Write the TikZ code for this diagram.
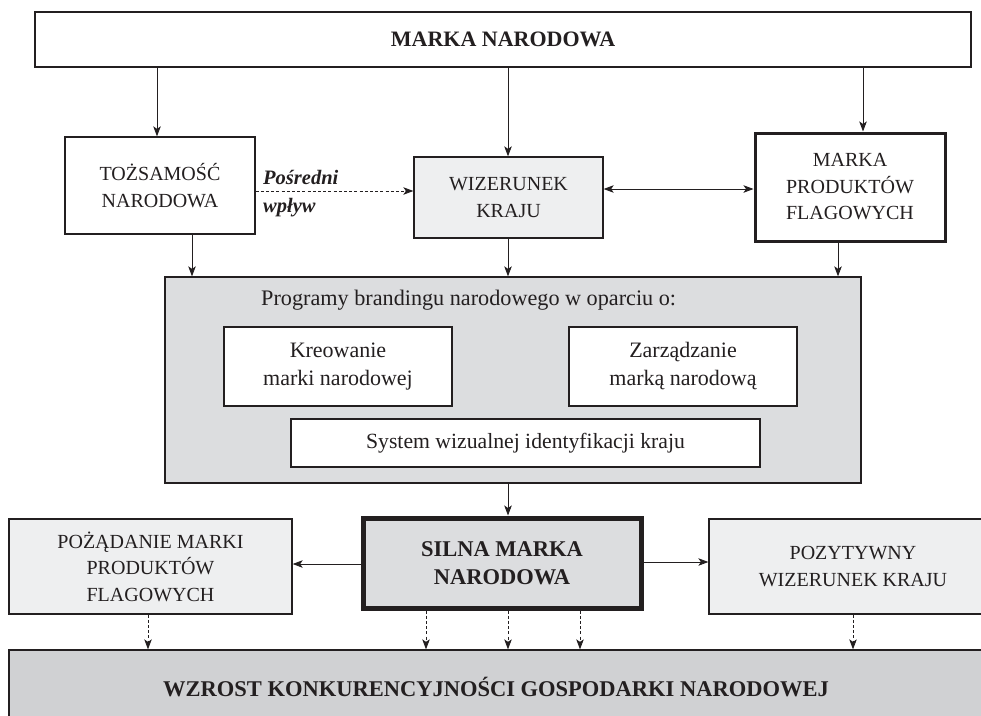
\documentclass[tikz,border=0pt]{standalone}
\usepackage{fontspec}
\setmainfont{Liberation Serif}
\usetikzlibrary{arrows.meta}
\definecolor{lg}{HTML}{EEEFF0}
\definecolor{mg}{HTML}{DCDDDF}
\definecolor{dg}{HTML}{D0D1D3}
\definecolor{ink}{HTML}{231F20}
\tikzset{
  box/.style={draw=ink, line width=1.3pt, align=center, inner sep=0pt, text=ink,
    font=\fontsize{20}{26.5}\selectfont},
  boldtxt/.style={font=\bfseries\fontsize{22.5}{28}\selectfont},
  innerbox/.style={box, fill=white, line width=2.8pt, font=\fontsize{22}{28}\selectfont},
  arr/.style={draw=ink, line width=0.9pt, -{Stealth[length=10pt,width=7.5pt,inset=2.5pt]}},
  darr/.style={arr, dash pattern=on 3pt off 2.2pt},
  biarr/.style={draw=ink, line width=0.9pt, {Stealth[length=10pt,width=7.5pt,inset=2.5pt]}-{Stealth[length=10pt,width=7.5pt,inset=2.5pt]}},
  lbl/.style={anchor=west, inner sep=0pt, text=ink, font=\bfseries\itshape\fontsize{20.5}{24}\selectfont}
}
\begin{document}
\begin{tikzpicture}[x=1pt,y=-1pt]
\useasboundingbox (0,0) rectangle (981,715);
\fill[white] (0,0) rectangle (981,715);

% top row
\node[box, fill=white, font=\bfseries\fontsize{22}{28}\selectfont, minimum width=936pt, minimum height=55pt] (top) at (503,39.5) {MARKA NARODOWA};
\node[box, fill=white, minimum width=190pt, minimum height=97pt] (toz) at (160,185.5) {TOŻSAMOŚĆ\\NARODOWA};
\node[box, fill=lg, minimum width=189pt, minimum height=81pt] (wiz) at (508.5,197.5) {WIZERUNEK\\KRAJU};
\node[box, fill=white, line width=3pt, minimum width=190pt, minimum height=108pt] (mpf) at (850,187) {MARKA\\PRODUKTÓW\\FLAGOWYCH};

\node[lbl] (posr) at (263,177) {Pośredni};
\node[lbl] (wpl) at (263,208) {wpływ};

% programs box
\node[box, fill=mg, minimum width=696pt, minimum height=206pt] (prog) at (513,380) {};
\node[anchor=west, inner sep=0pt, text=ink, font=\fontsize{22.2}{26}\selectfont] (ttl) at (261,300) {Programy brandingu narodowego w oparciu o:};
\node[innerbox, minimum width=228pt, minimum height=79pt] (kre) at (338,366.5) {Kreowanie\\marki narodowej};
\node[innerbox, minimum width=228pt, minimum height=79pt] (zar) at (683,366.5) {Zarządzanie\\marką narodową};
\node[innerbox, font=\fontsize{21.7}{26}\selectfont, minimum width=469pt, minimum height=48pt] (sys) at (525.5,443) {System wizualnej identyfikacji kraju};

% lower row
\node[box, fill=mg, line width=5pt, boldtxt, minimum width=278pt, minimum height=90pt] (silna) at (502,563) {SILNA MARKA\\NARODOWA};
\node[box, fill=lg, minimum width=283pt, minimum height=95pt] (poz) at (150.5,566.5) {POŻĄDANIE MARKI\\PRODUKTÓW\\FLAGOWYCH};
\node[box, fill=lg, minimum width=288pt, minimum height=95pt] (pwk) at (853,566.5) {POZYTYWNY\\WIZERUNEK KRAJU};
\node[box, fill=dg, boldtxt, minimum width=974pt, minimum height=74pt] (wzr) at (496,687) {WZROST KONKURENCYJNOŚCI GOSPODARKI NARODOWEJ};

% connectors
\draw[arr] (157,0 |- top.south) -- (157,0 |- toz.north);
\draw[arr] (508,0 |- top.south) -- (508,0 |- wiz.north);
\draw[arr] (863,0 |- top.south) -- (863,0 |- mpf.north);
\draw[darr] (toz.east |- 0,191) -- (wiz.west |- 0,191);
\draw[biarr] (wiz.east |- 0,189) -- (mpf.west |- 0,189);
\draw[arr] (192,0 |- toz.south) -- (192,0 |- prog.north);
\draw[arr] (508,0 |- wiz.south) -- (508,0 |- prog.north);
\draw[arr] (838,0 |- mpf.south) -- (838,0 |- prog.north);
\draw[arr] (508,0 |- prog.south) -- (508,0 |- silna.north);
\draw[arr] (silna.west |- 0,564) -- (poz.east |- 0,564);
\draw[arr] (silna.east |- 0,562) -- (pwk.west |- 0,562);
\draw[darr] (148,0 |- poz.south) -- (148,0 |- wzr.north);
\draw[darr] (426,0 |- silna.south) -- (426,0 |- wzr.north);
\draw[darr] (508,0 |- silna.south) -- (508,0 |- wzr.north);
\draw[darr] (580,0 |- silna.south) -- (580,0 |- wzr.north);
\draw[darr] (853,0 |- pwk.south) -- (853,0 |- wzr.north);
\end{tikzpicture}
\end{document}
